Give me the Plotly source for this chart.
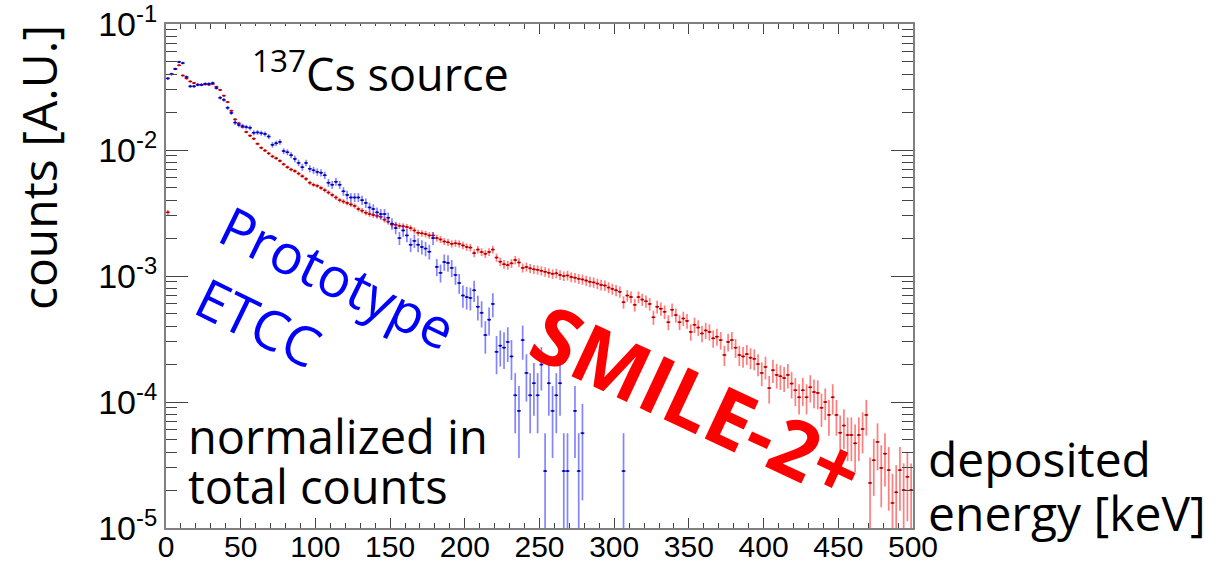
import math
import plotly.graph_objects as go

# ---------------- data (2.5 keV bins, 0-500 keV) ----------------
bin_width = 2.5
energy = [bin_width * (i + 0.5) for i in range(200)]

# SMILE-2+ (red), normalized counts per bin
smile2 = [
    0.0032, 0.040, 0.044, 0.047, 0.039, 0.037, 0.035, 0.034, 0.033, 0.0328,
    0.0332, 0.0330, 0.0334, 0.0318, 0.030, 0.027, 0.024, 0.0205, 0.0175, 0.0163,
    0.0152, 0.0139, 0.0130, 0.0123, 0.0112, 0.0104, 0.0099, 0.0094, 0.0089, 0.0086,
    0.0082, 0.0077, 0.0073, 0.0070, 0.0068, 0.0065, 0.0062, 0.0059, 0.0055, 0.0053,
    0.0052, 0.0050, 0.0048, 0.0046, 0.0044, 0.0042, 0.0040, 0.0039, 0.0038, 0.0037,
    0.0036, 0.0034, 0.0033, 0.00318, 0.0031, 0.00305, 0.0030, 0.00295, 0.0028, 0.0027,
    0.00256, 0.00255, 0.0025, 0.00248, 0.00245, 0.0024, 0.0023, 0.0022, 0.00218, 0.00215,
    0.0021, 0.0021, 0.0020, 0.00195, 0.00188, 0.00185, 0.0018, 0.00182, 0.0018, 0.00175,
    0.0017, 0.00168, 0.00152, 0.00162, 0.00155, 0.00150, 0.00155, 0.00162, 0.00140, 0.00130,
    0.00124, 0.00122, 0.00126, 0.00134, 0.00128, 0.00116, 0.00118, 0.00115, 0.00113, 0.00112,
    0.00110, 0.00108, 0.00106, 0.00104, 0.00105, 0.00102, 0.00100, 0.00101, 0.00098, 0.00097,
    0.00095, 0.00094, 0.00092, 0.00090, 0.00089, 0.00087, 0.00085, 0.00084, 0.00081, 0.00079,
    0.00077, 0.00075, 0.00062, 0.00070, 0.00068, 0.00059, 0.00068, 0.00065, 0.00063, 0.00060,
    0.00047, 0.00057, 0.00055, 0.00052, 0.00043, 0.00054, 0.00049, 0.00043, 0.00046, 0.00044,
    0.00036, 0.00041, 0.00039, 0.00035, 0.00037, 0.00036, 0.00032, 0.00033, 0.00031, 0.000236,
    0.00030, 0.00031, 0.00027, 0.000236, 0.00023, 0.00024, 0.000225, 0.00022, 0.00020, 0.00017,
    0.00019, 0.000129, 0.000179, 0.000164, 0.000160, 0.000155, 0.000164, 0.000140, 0.000124, 0.000109,
    0.000124, 0.000109, 0.000131, 0.000120, 0.000118, 0.000090, 0.000100, 0.000079, 0.000109, 0.000079,
    0.000057, 0.000065, 0.0000547, 0.0000547, 0.000047, 0.0000547, 0.000061, 0.000079, 0.0000228, 0.0000345,
    0.0000482, 0.000030, 0.0000389, 0.0000288, 0.0000158, 0.0000192, 0.0000288, 0.000020, 0.0000255, 0.000020,
]

# Prototype ETCC (blue), normalized counts per bin (None = empty bin)
prototype = [
    0.037, 0.040, 0.044, 0.050, 0.049, 0.038, 0.032, 0.032, 0.033, 0.033,
    0.0335, 0.0335, 0.034, 0.031, 0.026, 0.025, 0.0216, 0.0197, 0.0165, 0.0158,
    0.0155, 0.0152, 0.0150, 0.0137, 0.0138, 0.0136, 0.0134, 0.0128, 0.0110, 0.0113,
    0.0116, 0.0098, 0.0096, 0.0091, 0.0085, 0.0079, 0.0073, 0.0079, 0.0071, 0.0069,
    0.0067, 0.0066, 0.0063, 0.0055, 0.0053, 0.0056, 0.0053, 0.0047, 0.0044, 0.0042,
    0.0042, 0.0042, 0.0040, 0.0038, 0.0035, 0.0034, 0.0032, 0.0031, 0.0031, 0.0029,
    0.0026, 0.0024, 0.0020, 0.0023, 0.0021, 0.00177, 0.0019, 0.00177, 0.0017, 0.00165,
    0.00156, 0.0020, 0.00118, 0.00106, 0.00129, 0.00127, 0.00116, 0.00102, 0.00088, 0.00070,
    0.00068, 0.00067, 0.00077, 0.00057, 0.00051, 0.00034, 0.00045, 0.00060, 0.00025, 0.00028,
    0.00027, 0.00030, 0.00023, 0.000113, 0.000085, 0.00031, 0.00017, 0.000113, 0.000141, 0.000113,
    0.000198, 0.0000283, 0.000141, 0.000085, 0.000113, 0.000141, 0.0000283, 0.0000283, None, 0.000085,
    0.0000283, 0.0000566, None, None, None, None, None, None, None, None,
    None, None, 0.0000283, None, None, None, None, None, None, None,
] + [None] * 70

# value of a single count in each normalized histogram (Poisson errors)
smile2_count_unit = 7.9e-6
prototype_count_unit = 2.83e-5

ytick_vals = [1e-5, 1e-4, 1e-3, 1e-2, 1e-1]
ytick_text = ["10<sup>-5</sup>", "10<sup>-4</sup>", "10<sup>-3</sup>", "10<sup>-2</sup>", "10<sup>-1</sup>"]

# ---------------- helpers ----------------
def errs(vals, unit):
    up, dn = [], []
    for v in vals:
        if v is None:
            up.append(None); dn.append(None)
        else:
            e = math.sqrt(v * unit)
            up.append(e)
            dn.append(min(e, v * 0.999))
    return up, dn

W, H = 1222, 563
L, R, T, B = 166, 913, 24, 528

def px(x):
    return (x - L) / (R - L)

def py(y):
    return (B - y) / (B - T)

fig = go.Figure()

for vals, unit, ecol_y, ecol_x, mcol in [
    (smile2, smile2_count_unit, "rgba(255,40,40,0.6)", "#e00000", "#a00000"),
    (prototype, prototype_count_unit, "rgba(50,50,255,0.6)", "#1010e0", "#0000a0"),
]:
    up, dn = errs(vals, unit)
    fig.add_trace(go.Scatter(
        x=energy, y=vals, mode="markers",
        marker=dict(size=2, color=mcol),
        error_y=dict(type="data", array=up, arrayminus=dn, symmetric=False,
                     color=ecol_y, thickness=1.7, width=0),
        error_x=dict(type="constant", value=bin_width / 2, color=ecol_x,
                     thickness=1.5, width=0),
        showlegend=False, hoverinfo="x+y",
    ))

xaxis_font = dict(family="Liberation Sans, Arial, sans-serif", size=30, color="black")
yaxis_font = dict(family="Liberation Sans, Arial, sans-serif", size=34, color="black")

fig.update_xaxes(
    range=[0, 500], showgrid=False, zeroline=False, automargin=False,
    showline=True, linecolor="#808080", linewidth=2, mirror="allticks",
    ticks="inside", ticklen=10, tickwidth=1.3, tickcolor="#444",
    dtick=50, tick0=0, tickfont=xaxis_font,
    ticklabeloverflow="allow", ticklabelstandoff=-9,
    minor=dict(ticks="inside", ticklen=5, dtick=10, tickwidth=1.2, tickcolor="#444", showgrid=False),
)
fig.update_yaxes(
    type="log", range=[-5, -1], showgrid=False, zeroline=False, automargin=False,
    showline=True, linecolor="#808080", linewidth=2, mirror="allticks",
    ticks="inside", ticklen=22, tickwidth=1.3, tickcolor="#444",
    tickmode="array", tickvals=ytick_vals, ticktext=ytick_text, tickfont=yaxis_font,
    ticklabeloverflow="allow",
    minor=dict(ticks="inside", ticklen=11, dtick="D1", tickwidth=1.2, tickcolor="#444", showgrid=False),
)

hand = "Open Sans, DejaVu Sans, sans-serif"

shapes = [
    dict(type="rect", xref="paper", yref="paper", x0=px(238), x1=px(520),
         y0=py(45), y1=py(26), fillcolor="white", line=dict(width=0), layer="above"),
]

annotations = [
    dict(text="counts [A.U.]", x=px(38), y=py(168), textangle=-90,
         font=dict(family=hand, size=48, color="black")),
    dict(text="<sup>137</sup>Cs source", x=px(250), y=py(71), xanchor="left",
         font=dict(family=hand, size=45, color="black")),
    dict(text="Prototype", x=px(338), y=py(276), textangle=26,
         font=dict(family=hand, size=55, color="#0000ff")),
    dict(text="ETCC", x=px(259), y=py(321), textangle=26,
         font=dict(family=hand, size=55, color="#0000ff")),
    dict(text="<b>SMILE-2+</b>", x=px(698), y=py(400), textangle=25,
         font=dict(family=hand, size=80, color="#ff0000")),
    dict(text="normalized in", x=px(186), y=py(436), xanchor="left",
         font=dict(family=hand, size=47, color="black")),
    dict(text="total counts", x=px(186), y=py(486), xanchor="left",
         font=dict(family=hand, size=47, color="black")),
    dict(text="deposited", x=px(926), y=py(458), xanchor="left",
         font=dict(family=hand, size=48, color="black")),
    dict(text="energy [keV]", x=px(926), y=py(512), xanchor="left",
         font=dict(family=hand, size=48, color="black")),
]
for a in annotations:
    a.update(xref="paper", yref="paper", showarrow=False)
    a.setdefault("xanchor", "center")
    a.setdefault("yanchor", "middle")

fig.update_layout(
    width=W, height=H,
    margin=dict(l=L, r=W - R, t=T, b=H - B, autoexpand=False),
    paper_bgcolor="white", plot_bgcolor="white",
    shapes=shapes, annotations=annotations,
)

fig.write_html("out.html")
